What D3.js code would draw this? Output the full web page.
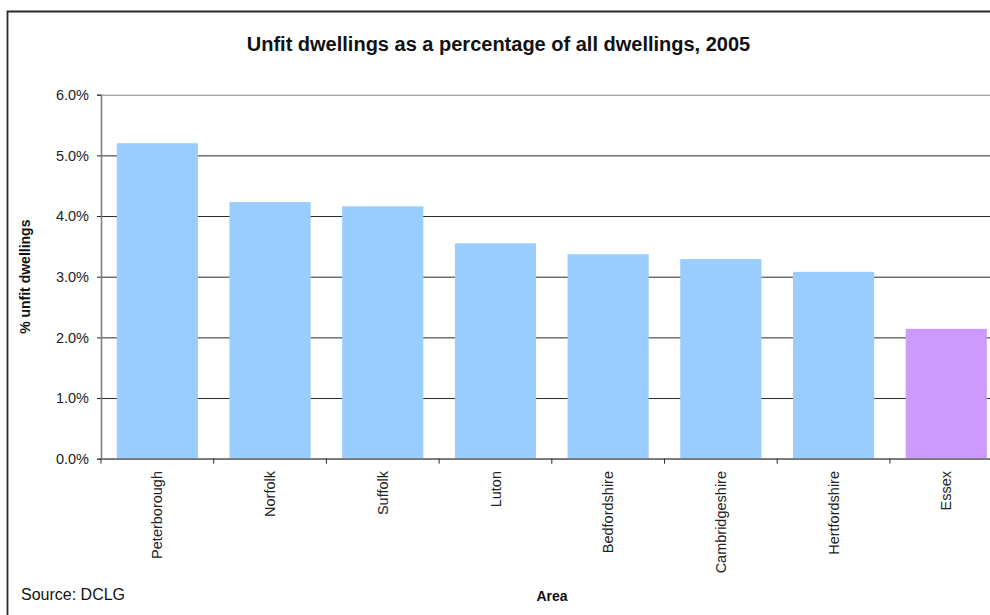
<!DOCTYPE html>
<html>
<head>
<meta charset="utf-8">
<script src="https://cdn.jsdelivr.net/npm/d3@7"></script>
<style>
  html, body { margin: 0; padding: 0; background: #fff; }
  svg { display: block; font-family: Arial, "Liberation Sans", sans-serif; }
  .tick text { fill: #222; }
</style>
</head>
<body>
<svg id="chart" width="990" height="615"></svg>
<script>
// Données
const areas = ['Peterborough', 'Norfolk', 'Suffolk', 'Luton', 'Bedfordshire', 'Cambridgeshire', 'Hertfordshire', 'Essex'];
const unfitPct = [5.20, 4.23, 4.16, 3.55, 3.37, 3.29, 3.08, 2.14];
const yTicks = [0, 1, 2, 3, 4, 5, 6];
const highlighted = ['Essex'];

const data = areas.map((a, i) => ({ area: a, value: unfitPct[i] }));

const svg = d3.select('#chart');

// Cadre extérieur
svg.append('path')
  .attr('d', 'M7.5,620 L7.5,11.5 L995,11.5')
  .attr('fill', 'none')
  .attr('stroke', '#2a2a2a')
  .attr('stroke-width', 1.8);

// Titre
svg.append('text')
  .attr('x', 498.5)
  .attr('y', 51)
  .attr('text-anchor', 'middle')
  .attr('font-size', '20px')
  .attr('font-weight', 'bold')
  .attr('fill', '#111')
  .text('Unfit dwellings as a percentage of all dwellings, 2005');

// Zone du graphique
const plotLeft = 101, plotRight = 1002.6, plotTop = 94.7, plotBottom = 458.7;

const x = d3.scaleBand()
  .domain(areas)
  .range([plotLeft, plotRight])
  .paddingInner(0.28)
  .paddingOuter(0.14);

const y = d3.scaleLinear()
  .domain([0, 6])
  .range([plotBottom, plotTop]);

// Quadrillage
const grid = svg.append('g')
  .attr('transform', `translate(${plotLeft},0)`)
  .call(d3.axisLeft(y).tickValues(yTicks).tickSize(-(plotRight - plotLeft)).tickFormat(''));
grid.select('.domain').remove();
grid.selectAll('.tick line')
  .attr('stroke', d => d === 6 ? '#808080' : '#2a2a2a')
  .attr('stroke-width', 1);

// Barres
svg.append('g')
  .selectAll('rect')
  .data(data)
  .join('rect')
  .attr('x', d => x(d.area))
  .attr('y', d => y(d.value))
  .attr('width', x.bandwidth())
  .attr('height', d => y(0) - y(d.value))
  .attr('fill', d => highlighted.includes(d.area) ? '#cc99ff' : '#99ccff');

// Axe Y
const yAxis = svg.append('g')
  .attr('transform', `translate(${plotLeft},0)`)
  .call(d3.axisLeft(y).tickValues(yTicks).tickSize(4).tickPadding(8)
    .tickFormat(d => d.toFixed(1) + '%'));
yAxis.select('.domain').attr('stroke', '#808080').attr('stroke-width', 1.6);
yAxis.selectAll('.tick line').attr('stroke', '#2a2a2a');
yAxis.selectAll('.tick text')
  .attr('font-size', '14.5px')
  .attr('font-family', 'Arial, "Liberation Sans", sans-serif');

// Axe X : traits entre les catégories
const xAxis = svg.append('g');
xAxis.append('line')
  .attr('x1', plotLeft).attr('x2', plotRight)
  .attr('y1', plotBottom).attr('y2', plotBottom)
  .attr('stroke', '#808080')
  .attr('stroke-width', 1.6);
xAxis.selectAll('.xtick')
  .data(areas.concat(['__end']))
  .join('line')
  .attr('class', 'xtick')
  .attr('x1', (d, i) => plotLeft + i * x.step())
  .attr('x2', (d, i) => plotLeft + i * x.step())
  .attr('y1', plotBottom)
  .attr('y2', plotBottom + 5)
  .attr('stroke', '#2a2a2a');

// Etiquettes X pivotées
xAxis.selectAll('.xlabel')
  .data(areas)
  .join('text')
  .attr('class', 'xlabel')
  .attr('transform', d => `translate(${x(d) + x.bandwidth() / 2},471) rotate(-90)`)
  .attr('dy', '0.35em')
  .attr('text-anchor', 'end')
  .attr('font-size', '14.5px')
  .attr('fill', '#222')
  .text(d => d);

// Titres des axes
svg.append('text')
  .attr('transform', `translate(30,${(plotTop + plotBottom) / 2}) rotate(-90)`)
  .attr('text-anchor', 'middle')
  .attr('font-size', '14px')
  .attr('font-weight', 'bold')
  .attr('fill', '#111')
  .text('% unfit dwellings');

svg.append('text')
  .attr('x', 552)
  .attr('y', 601)
  .attr('text-anchor', 'middle')
  .attr('font-size', '14px')
  .attr('font-weight', 'bold')
  .attr('fill', '#111')
  .text('Area');

svg.append('text')
  .attr('x', 21)
  .attr('y', 600)
  .attr('font-size', '16px')
  .attr('fill', '#111')
  .text('Source: DCLG');
</script>
</body>
</html>
